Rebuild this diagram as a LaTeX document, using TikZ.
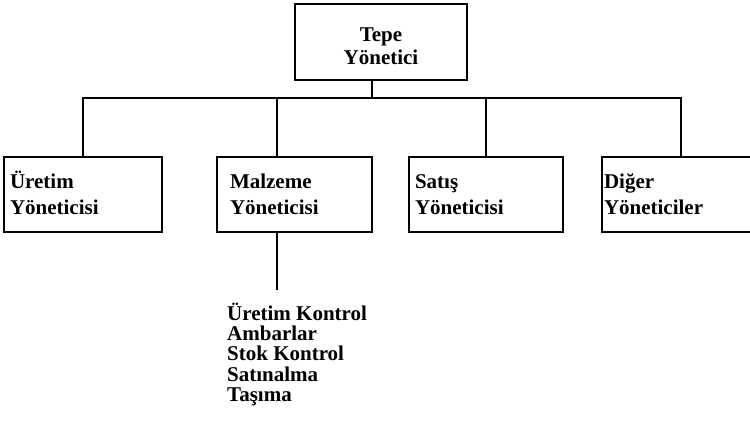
\documentclass[tikz,border=0pt]{standalone}
\usepackage{fontspec}
\setmainfont{Liberation Serif}
\usetikzlibrary{positioning}
\tikzset{
  kutu/.style={draw, line width=2.2pt, outer sep=0pt, anchor=north west, minimum height=75, inner ysep=0pt, text height=16, text depth=27, align=left, font=\bfseries\fontsize{21}{26}\selectfont},
  bag/.style={line width=2pt},
  liste/.style={anchor=base west, inner sep=0pt, font=\bfseries\fontsize{21}{21}\selectfont},
}

\begin{document}
\begin{tikzpicture}[x=1pt,y=-1pt]
\useasboundingbox (0,0) rectangle (750,425);
\clip (0,0) rectangle (750,425);
% kutular
\node[kutu, line width=2.8pt, align=center, text width=164, inner xsep=4, minimum height=76, text height=23, text depth=23, font=\bfseries\fontsize{21}{23}\selectfont] (tepe) at (295,4) {Tepe\\Yönetici};
\node[kutu, text width=146, inner xsep=6] (uretim) at (4,157) {Üretim\\Yöneticisi};
\node[kutu, text width=129, inner xsep=13] (malzeme) at (217,157) {Malzeme\\Yöneticisi};
\node[kutu, text width=142, inner xsep=6] (satis) at (409,157) {Satış\\Yöneticisi};
\node[kutu, text width=154, inner xsep=2] (diger) at (602,157) {Diğer\\Yöneticiler};

% baglantilar
\coordinate (bus) at (0,98);
\draw[bag] (uretim.north) |- (bus -| diger.north) -- (diger.north);
\draw[bag] ([xshift=-9pt]tepe.south) -- ([xshift=-9pt]tepe.south |- bus);
\draw[bag] ([xshift=-18pt]malzeme.north) -- ([xshift=-18pt]malzeme.north |- bus);
\draw[bag] (satis.north) -- (satis.north |- bus);
\draw[bag] ([xshift=-18pt]malzeme.south) -- ++(0,58) coordinate (malzemeuc);

% alt birimler
\foreach \s [count=\i] in {Üretim Kontrol, Ambarlar, Stok Kontrol, Satınalma, Taşıma}
  \node[liste] (l\i) at (227,{299.6+20.4*\i}) {\s};
\end{tikzpicture}
\end{document}
